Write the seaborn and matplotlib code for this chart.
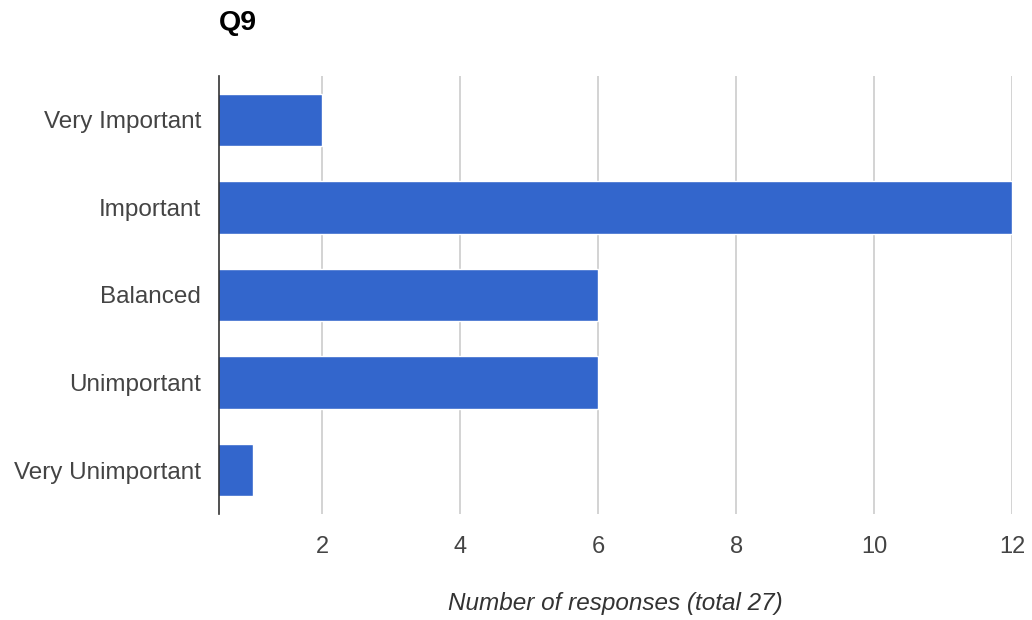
import matplotlib
matplotlib.use("Agg")
import matplotlib.pyplot as plt
import seaborn as sns
import pandas as pd

categories = ["Very Important", "Important", "Balanced", "Unimportant", "Very Unimportant"]
responses = [2, 12, 6, 6, 1]
x_ticks = [2, 4, 6, 8, 10, 12]
total = sum(responses)

sns.set_theme(style="white")
plt.rcParams["font.family"] = ["Liberation Sans", "DejaVu Sans"]

df = pd.DataFrame({"category": categories, "responses": responses})

fig = plt.figure(figsize=(10.32, 6.2), dpi=100)
ax = fig.add_axes([0.2122, 0.171, 0.9806 - 0.2122, 0.8774 - 0.171])

sns.barplot(data=df, x="responses", y="category", order=categories,
            color="#3366CC", saturation=1, width=0.6, ax=ax, zorder=3)

ax.set_xlim(0.5, 12)
ax.set_ylim(4.5, -0.5)
ax.set_xticks(x_ticks)
ax.set_xticklabels([str(t) for t in x_ticks])
for t in x_ticks:
    ax.axvline(t, color="#cccccc", linewidth=1.2, zorder=1)

for side in ["top", "right", "bottom"]:
    ax.spines[side].set_visible(False)
ax.spines["left"].set_color("#333333")
ax.spines["left"].set_linewidth(1.2)
ax.spines["left"].set_zorder(4)

ax.tick_params(axis="both", length=0, colors="#444444")
ax.tick_params(axis="x", pad=16, labelsize=17)
ax.tick_params(axis="y", pad=13, labelsize=17.5)
ax.set_ylabel("")
ax.set_xlabel(f"Number of responses (total {total})", fontsize=17.5,
              style="italic", color="#333333", va="center")
ax.xaxis.set_label_coords(0.5, -0.205)

fig.text(219 / 1032, 1 - 23 / 620, "Q9", fontsize=20.5, fontweight="bold",
         color="#000000", ha="left", va="center")

fig.savefig("out.png", dpi=100)
